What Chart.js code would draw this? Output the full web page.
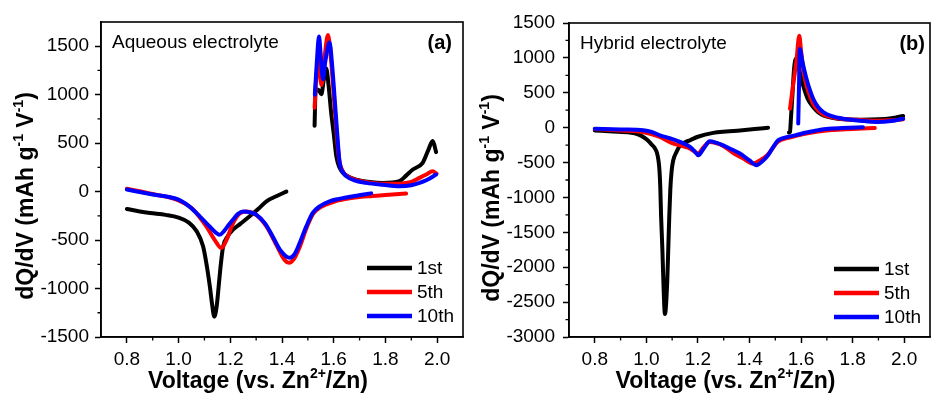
<!DOCTYPE html>
<html>
<head>
<meta charset="utf-8">
<script src="https://cdn.jsdelivr.net/npm/chart.js@4.4.1/dist/chart.umd.min.js"></script>
<style>
  body { margin: 0; background: #fff; }
  .panel { position: absolute; top: 0; width: 466px; height: 398px; }
</style>
</head>
<body>
<div class="panel" style="left:0"><canvas id="chart-a" width="466" height="398"></canvas></div>
<div class="panel" style="left:466px"><canvas id="chart-b" width="466" height="398"></canvas></div>
<script>
// legend labels and ticks
const SERIES = ['1st', '5th', '10th'];
const X_TICKS = [0.8, 1.0, 1.2, 1.4, 1.6, 1.8, 2.0];
const X_MINOR = [0.9, 1.1, 1.3, 1.5, 1.7, 1.9];
const A_Y_TICKS = [-1500, -1000, -500, 0, 500, 1000, 1500];
const A_Y_MINOR = [-1250, -750, -250, 250, 750, 1250];
const B_Y_TICKS = [-3000, -2500, -2000, -1500, -1000, -500, 0, 500, 1000, 1500];
const B_Y_MINOR = [-2750, -2250, -1750, -1250, -750, -250, 250, 750, 1250];

// (a) aqueous electrolyte: [voltage, dQ/dV], discharge and charge branches
const A_1ST_DIS = [[0.80,-179],[0.85,-205],[0.89,-221],[0.95,-240],[1.00,-268],[1.04,-320],[1.07,-410],[1.095,-566],[1.11,-780],[1.121,-980],[1.13,-1170],[1.138,-1290],[1.147,-1190],[1.155,-980],[1.163,-760],[1.172,-570],[1.19,-460],[1.21,-393],[1.24,-330],[1.275,-255],[1.31,-175],[1.34,-100],[1.38,-45],[1.417,0]];
const A_1ST_CHG = [[1.526,680],[1.530,1056],[1.541,1050],[1.552,1004],[1.562,1160],[1.571,1270],[1.580,1100],[1.590,818],[1.600,600],[1.610,365],[1.622,250],[1.636,193],[1.66,150],[1.687,124],[1.74,100],[1.79,90],[1.854,107],[1.88,165],[1.906,228],[1.944,297],[1.964,417],[1.983,521],[1.996,407]];
const A_5TH_DIS = [[0.80,30],[0.90,-25],[1.00,-90],[1.05,-170],[1.08,-260],[1.11,-370],[1.14,-500],[1.166,-583],[1.185,-500],[1.21,-330],[1.235,-230],[1.26,-205],[1.30,-240],[1.34,-360],[1.38,-560],[1.41,-705],[1.427,-735],[1.445,-700],[1.47,-560],[1.494,-380],[1.52,-230],[1.55,-160],[1.60,-105],[1.65,-75],[1.70,-55],[1.75,-45],[1.80,-35],[1.88,-20]];
const A_5TH_CHG = [[1.526,866],[1.532,1150],[1.540,1350],[1.553,1100],[1.565,1400],[1.578,1615],[1.590,1350],[1.600,1000],[1.610,650],[1.620,350],[1.635,210],[1.66,150],[1.70,110],[1.75,90],[1.80,80],[1.85,82],[1.90,100],[1.932,142],[1.96,180],[1.983,210],[1.998,185]];
const A_10TH_DIS = [[0.80,21],[0.90,-30],[1.00,-83],[1.04,-150],[1.082,-255],[1.12,-360],[1.145,-425],[1.159,-445],[1.175,-410],[1.195,-340],[1.21,-290],[1.23,-230],[1.249,-204],[1.275,-212],[1.30,-238],[1.335,-330],[1.364,-462],[1.395,-610],[1.43,-683],[1.45,-640],[1.47,-520],[1.494,-359],[1.519,-220],[1.546,-152],[1.584,-100],[1.62,-75],[1.68,-45],[1.745,-18]];
const A_10TH_CHG = [[1.527,1000],[1.535,1350],[1.543,1601],[1.550,1400],[1.558,1160],[1.568,1350],[1.584,1539],[1.594,1300],[1.603,986],[1.613,620],[1.623,297],[1.636,200],[1.649,159],[1.68,115],[1.726,90],[1.79,70],[1.854,55],[1.90,65],[1.932,90],[1.96,120],[1.996,176]];

// (b) hybrid electrolyte
const B_1ST_DIS = [[0.80,-40],[0.87,-55],[0.936,-71],[0.97,-100],[0.988,-133],[1.005,-180],[1.02,-240],[1.032,-290],[1.041,-360],[1.047,-470],[1.051,-620],[1.054,-850],[1.057,-1253],[1.062,-1729],[1.066,-2205],[1.072,-2670],[1.081,-2205],[1.085,-1729],[1.089,-1253],[1.093,-880],[1.098,-620],[1.104,-470],[1.117,-347],[1.13,-260],[1.15,-210],[1.169,-181],[1.20,-130],[1.259,-75],[1.31,-55],[1.363,-40],[1.42,-20],[1.472,0]];
const B_1ST_CHG = [[1.553,-70],[1.557,-60],[1.561,150],[1.567,500],[1.573,850],[1.580,986],[1.590,880],[1.600,720],[1.608,604],[1.625,420],[1.647,296],[1.666,220],[1.686,176],[1.72,140],[1.763,119],[1.83,115],[1.90,119],[1.95,135],[1.996,167]];
const B_5TH_DIS = [[0.80,-20],[0.90,-40],[0.99,-65],[1.05,-130],[1.10,-220],[1.14,-265],[1.17,-300],[1.20,-370],[1.222,-280],[1.246,-205],[1.27,-220],[1.30,-265],[1.34,-370],[1.376,-443],[1.414,-514],[1.44,-470],[1.47,-390],[1.51,-200],[1.55,-145],[1.60,-100],[1.66,-60],[1.72,-35],[1.80,-20],[1.886,-5]];
const B_5TH_CHG = [[1.557,271],[1.569,604],[1.582,950],[1.593,1319],[1.600,1100],[1.610,800],[1.620,620],[1.635,450],[1.647,340],[1.665,250],[1.686,190],[1.72,150],[1.763,125],[1.83,110],[1.90,100],[1.95,105],[1.996,120]];
const B_10TH_DIS = [[0.80,-15],[0.90,-25],[0.988,-38],[1.02,-60],[1.053,-110],[1.09,-150],[1.13,-204],[1.169,-276],[1.19,-350],[1.201,-396],[1.222,-300],[1.246,-196],[1.27,-215],[1.298,-253],[1.33,-310],[1.363,-371],[1.40,-470],[1.427,-539],[1.45,-480],[1.472,-396],[1.49,-290],[1.511,-181],[1.54,-140],[1.577,-110],[1.62,-70],[1.66,-40],[1.706,-14],[1.76,-5],[1.84,5]];
const B_10TH_CHG = [[1.589,60],[1.592,600],[1.595,1129],[1.605,950],[1.621,700],[1.634,540],[1.647,414],[1.665,300],[1.686,224],[1.72,165],[1.763,129],[1.83,100],[1.893,81],[1.95,95],[1.996,129]];

const COLORS = ['#000000', '#ff0000', '#0000ff'];
const FONT = '"Liberation Sans", Arial, sans-serif';

function pts(arr) {
  return arr.map(p => ({ x: p[0], y: p[1] }));
}

// 两条分支（放电/充电）共用一个颜色
function makeDatasets(branches) {
  const out = [];
  branches.forEach((pair, i) => {
    pair.forEach(b => {
      out.push({
        data: pts(b),
        borderColor: COLORS[i],
        borderWidth: 4,
        pointRadius: 0,
        cubicInterpolationMode: 'monotone',
        borderCapStyle: 'round',
        borderJoinStyle: 'round',
        order: 2 - i
      });
    });
  });
  return out;
}

function richText(ctx, parts, x, y, size, rotate) {
  ctx.save();
  ctx.translate(x, y);
  if (rotate) ctx.rotate(-Math.PI / 2);
  const big = 'bold ' + size + 'px ' + FONT;
  const small = 'bold ' + Math.round(size * 0.62) + 'px ' + FONT;
  let w = 0;
  parts.forEach(p => { ctx.font = p.sup ? small : big; w += ctx.measureText(p.t).width; });
  let cx = -w / 2;
  ctx.textBaseline = 'middle';
  ctx.textAlign = 'left';
  ctx.fillStyle = '#000';
  parts.forEach(p => {
    ctx.font = p.sup ? small : big;
    ctx.fillText(p.t, cx, p.sup ? -size * 0.36 : 0);
    cx += ctx.measureText(p.t).width;
  });
  ctx.restore();
}

const X_TITLE = [{ t: 'Voltage (vs. Zn' }, { t: '2+', sup: true }, { t: '/Zn)' }];
const Y_TITLE = [{ t: 'dQ/dV (mAh g' }, { t: '-1', sup: true }, { t: ' V' }, { t: '-1', sup: true }, { t: ')' }];

const framePlugin = {
  id: 'frame',
  afterDraw(chart, args, o) {
    const { ctx, chartArea: a, scales: { x, y } } = chart;
    ctx.save();
    ctx.strokeStyle = '#000';
    ctx.lineWidth = 1.6;
    ctx.strokeRect(a.left, a.top, a.right - a.left, a.bottom - a.top);
    // 次刻度
    ctx.lineWidth = 1.3;
    ctx.beginPath();
    X_MINOR.forEach(v => {
      const px = x.getPixelForValue(v);
      ctx.moveTo(px, a.bottom); ctx.lineTo(px, a.bottom + 3.5);
    });
    o.yMinor.forEach(v => {
      const py = y.getPixelForValue(v);
      ctx.moveTo(a.left, py); ctx.lineTo(a.left - 3.5, py);
    });
    ctx.stroke();

    // 图例
    SERIES.forEach((s, i) => {
      const ly = a.bottom - o.legendDy + i * 24;
      ctx.strokeStyle = COLORS[i];
      ctx.lineWidth = 4.5;
      ctx.beginPath();
      ctx.moveTo(a.right - 96, ly); ctx.lineTo(a.right - 51, ly);
      ctx.stroke();
      ctx.fillStyle = '#000';
      ctx.font = '19px ' + FONT;
      ctx.textAlign = 'left';
      ctx.textBaseline = 'middle';
      ctx.fillText(s, a.right - 46, ly + 1);
    });

    // 标注
    ctx.fillStyle = '#000';
    ctx.font = '19px ' + FONT;
    ctx.textAlign = 'left';
    ctx.textBaseline = 'middle';
    ctx.fillText(o.label, a.left + 11, a.top + 21);
    ctx.font = 'bold 20px ' + FONT;
    ctx.textAlign = 'right';
    ctx.fillText(o.tag, a.right - o.tagDx, a.top + 21);
    ctx.restore();

    richText(ctx, X_TITLE, (a.left + a.right) / 2 - 24, 382, 23, false);
    richText(ctx, Y_TITLE, 27, o.yTitleY, 23, true);
  }
};

function makeChart(id, p) {
  return new Chart(document.getElementById(id), {
    type: 'line',
    data: { datasets: makeDatasets(p.branches) },
    plugins: [framePlugin],
    options: {
      responsive: false,
      animation: false,
      events: [],
      layout: { padding: { top: p.top, right: p.right, left: 0, bottom: 0 } },
      plugins: {
        legend: { display: false },
        tooltip: { enabled: false },
        frame: { yMinor: p.yMinor, label: p.label, tag: p.tag, tagDx: p.tagDx, legendDy: p.legendDy, yTitleY: p.yTitleY }
      },
      scales: {
        x: {
          type: 'linear', min: 0.7, max: 2.1,
          afterBuildTicks: s => { s.ticks = X_TICKS.map(v => ({ value: v })); },
          afterFit: s => { s.height = 61; },
          grid: { drawOnChartArea: false, tickLength: 6, tickColor: '#000', tickWidth: 1.5 },
          border: { display: true, color: '#000', width: 1.6 },
          ticks: { color: '#000', font: { family: FONT, size: 19 }, padding: 5, maxRotation: 0, autoSkip: false, callback: v => v.toFixed(1) }
        },
        y: {
          type: 'linear', min: p.yMin, max: p.yMax,
          afterBuildTicks: s => { s.ticks = p.yTicks.map(v => ({ value: v })); },
          afterFit: s => { s.width = p.axisW; },
          grid: { drawOnChartArea: false, tickLength: 6, tickColor: '#000', tickWidth: 1.5 },
          border: { display: true, color: '#000', width: 1.6 },
          ticks: { color: '#000', font: { family: FONT, size: 19 }, padding: p.tickPad, autoSkip: false, callback: v => String(v) }
        }
      }
    }
  });
}

makeChart('chart-a', {
  branches: [[A_1ST_DIS, A_1ST_CHG], [A_5TH_DIS, A_5TH_CHG], [A_10TH_DIS, A_10TH_CHG]],
  yMin: -1500, yMax: 1750, yTicks: A_Y_TICKS, yMinor: A_Y_MINOR,
  axisW: 101, top: 22, right: 3, tickPad: 6,
  label: 'Aqueous electrolyte', tag: '(a)', tagDx: 11, legendDy: 69, yTitleY: 196
});

makeChart('chart-b', {
  branches: [[B_1ST_DIS, B_1ST_CHG], [B_5TH_DIS, B_5TH_CHG], [B_10TH_DIS, B_10TH_CHG]],
  yMin: -3000, yMax: 1500, yTicks: B_Y_TICKS, yMinor: B_Y_MINOR,
  axisW: 103, top: 23, right: 2, tickPad: 8,
  label: 'Hybrid electrolyte', tag: '(b)', tagDx: 5, legendDy: 68, yTitleY: 198
});
</script>
</body>
</html>
